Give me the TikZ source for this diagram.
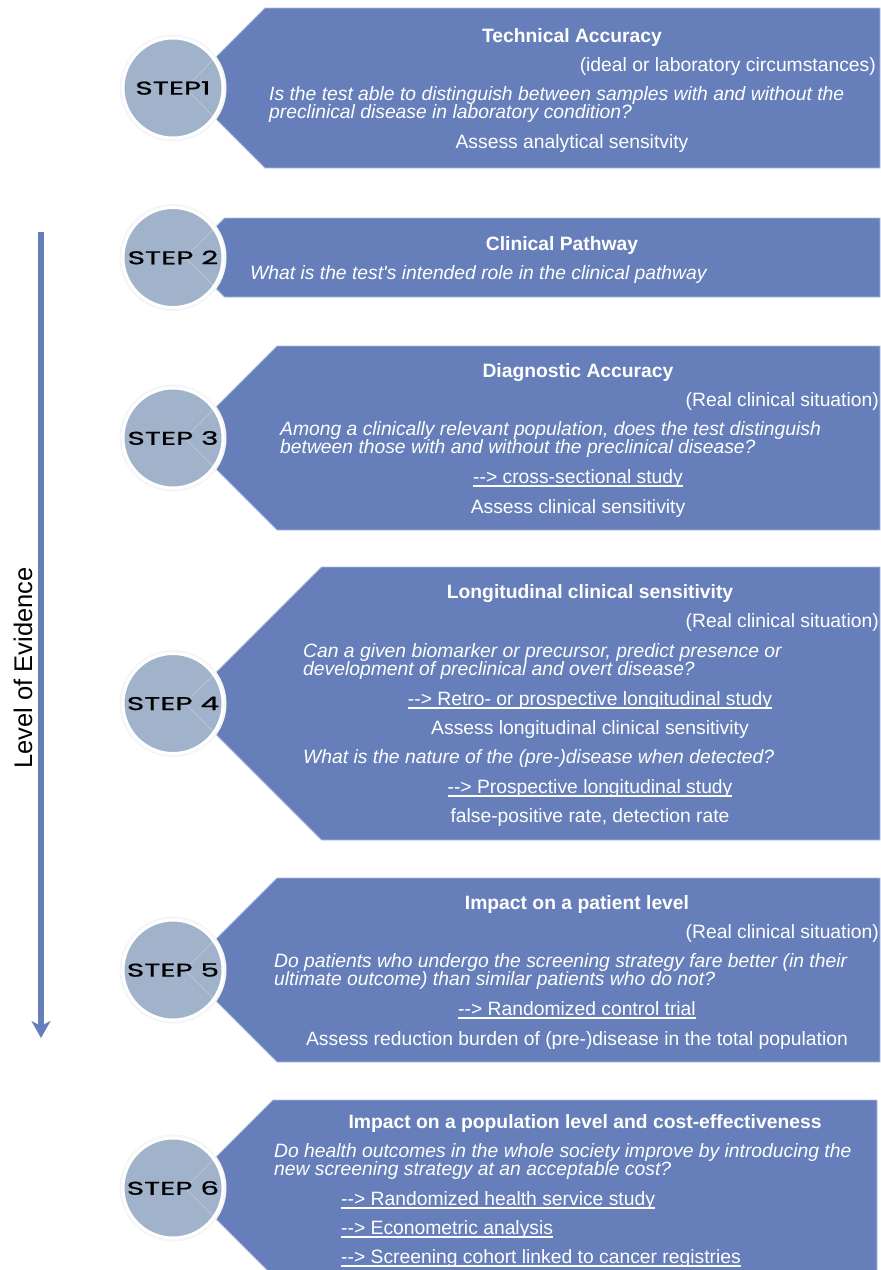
\documentclass[tikz,border=0pt]{standalone}
\usepackage{fontspec}
\setmainfont{Liberation Sans}
\newfontfamily\stepfont[FakeStretch=1.6,FakeBold=0.8]{Poppins}
\usetikzlibrary{arrows.meta}
\definecolor{bannerblue}{RGB}{102,127,187}
\definecolor{discgray}{RGB}{161,179,203}
\definecolor{rimblue}{RGB}{172,188,222}
\newcommand{\lnk}[1]{\setbox0\hbox{#1}\rlap{\rule[-3.5pt]{\wd0}{1.3pt}}\box0}
\newcommand{\arr}{-\kern0pt-\kern0pt>}

\begin{document}
\begin{tikzpicture}[x=1pt,y=-1pt,
  banner/.style={fill=bannerblue,draw=rimblue,line width=0.8pt},
  disc/.style={circle,fill=discgray,draw=white,line width=3pt,minimum size=100pt,inner sep=0pt,preaction={draw=black!4,line width=7pt}},
  seam/.style={draw=white,opacity=0.35,line width=0.6pt},
  steplbl/.style={inner sep=0pt,text=black,font=\stepfont\fontsize{18.5}{20}\selectfont},
  txt/.style={text=white,inner sep=0pt,yshift=-4.5pt,font=\fontsize{19.3}{18}\selectfont},
  ttl/.style={txt,anchor=mid,font=\bfseries\fontsize{19.3}{18}\selectfont},
  note/.style={txt,anchor=mid east},
  qst/.style={txt,anchor=mid west,font=\itshape\fontsize{19.3}{18}\selectfont},
  res/.style={txt,anchor=mid},
  lnkw/.style={txt,anchor=mid west},
  evarrow/.style={-{Stealth[length=17pt,width=19pt,inset=5pt]},line width=6pt,draw=bannerblue}]

                    \useasboundingbox (0,0) rectangle (881,1270);
                    \clip (0,0) rectangle (881,1270);

                    \draw[banner] (265,8) -- (880,8) -- (880,168) -- (265,168) -- (185,88) -- cycle;
                    \draw[banner] (224.5,218) -- (880,218) -- (880,297) -- (224.5,297) -- (185,257.5) -- cycle;
                    \draw[banner] (277,346) -- (880,346) -- (880,530) -- (277,530) -- (185,438) -- cycle;
                    \draw[banner] (321.5,567) -- (880,567) -- (880,840) -- (321.5,840) -- (185,703.5) -- cycle;
                    \draw[banner] (277,878) -- (880,878) -- (880,1062) -- (277,1062) -- (185,970) -- cycle;
                    \draw[banner] (273,1100) -- (877,1100) -- (877,1276) -- (273,1276) -- (185,1188) -- cycle;

                    \node[disc] (c1) at (173,88) {};
                    \node[disc] (c2) at (173,257.5) {};
                    \node[disc] (c3) at (173,438) {};
                    \node[disc] (c4) at (173,703.5) {};
                    \node[disc] (c5) at (173,970) {};
                    \node[disc] (c6) at (173,1188) {};

                    \foreach \c in {88,257.5,438,703.5,970,1188}
                        \draw[seam] (214,\c-29) -- (185,\c) -- (214,\c+29);

                    \node[steplbl] (l1) at (c1) {STEP1};
                    \node[steplbl] (l2) at (c2) {STEP 2};
                    \node[steplbl] (l3) at (c3) {STEP 3};
                    \node[steplbl] (l4) at (c4) {STEP 4};
                    \node[steplbl] (l5) at (c5) {STEP 5};
                    \node[steplbl] (l6) at (c6) {STEP 6};

                    \node[ttl] (t1) at (572,35) {Technical Accuracy};
                    \node[note] (n1) at (876,64) {(ideal or laboratory circumstances)};
                    \node[qst] (q1a) at (269,93) {Is the test able to distinguish between samples with and without the};
                    \node[qst] (q1b) at (269,111) {preclinical disease in laboratory condition?};
                    \node[res] (r1) at (572,141) {Assess analytical sensitvity};

                    \node[ttl] (t2) at (562,243) {Clinical Pathway};
                    \node[qst] (q2) at (250,272) {What is the test\textquotesingle s intended role in the clinical pathway};

                    \node[ttl] (t3) at (578,370) {Diagnostic Accuracy};
                    \node[note] (n3) at (879,399) {(Real clinical situation)};
                    \node[qst] (q3a) at (280,428) {Among a clinically relevant population, does the test distinguish};
                    \node[qst] (q3b) at (280,446) {between those with and without the preclinical disease?};
                    \node[res] (k3) at (578,476) {\lnk{\arr{} cross-sectional study}};
                    \node[res] (r3) at (578,506) {Assess clinical sensitivity};

                    \node[ttl] (t4) at (590,591) {Longitudinal clinical sensitivity};
                    \node[note] (n4) at (879,620) {(Real clinical situation)};
                    \node[qst] (q4a) at (303,650) {Can a given biomarker or precursor, predict presence or};
                    \node[qst] (q4b) at (303,668) {development of preclinical and overt disease?};
                    \node[res] (k4a) at (590,698) {\lnk{\arr{} Retro- or prospective longitudinal study}};
                    \node[res] (r4a) at (590,727) {Assess longitudinal clinical sensitivity};
                    \node[qst] (q4c) at (303,756) {What is the nature of the (pre-)disease when detected?};
                    \node[res] (k4b) at (590,786) {\lnk{\arr{} Prospective longitudinal study}};
                    \node[res] (r4b) at (590,815) {false-positive rate, detection rate};

                    \node[ttl] (t5) at (577,902) {Impact on a patient level};
                    \node[note] (n5) at (879,931) {(Real clinical situation)};
                    \node[qst] (q5a) at (274,960) {Do patients who undergo the screening strategy fare better (in their};
                    \node[qst] (q5b) at (274,978) {ultimate outcome) than similar patients who do not?};
                    \node[res] (k5) at (577,1008) {\lnk{\arr{} Randomized control trial}};
                    \node[res] (r5) at (577,1038) {Assess reduction burden of (pre-)disease in the total population};

                    \node[ttl] (t6) at (585,1121) {Impact on a population level and cost-effectiveness};
                    \node[qst] (q6a) at (274,1150) {Do health outcomes in the whole society improve by introducing the};
                    \node[qst] (q6b) at (274,1168) {new screening strategy at an acceptable cost?};
                    \node[lnkw] (k6a) at (341,1198) {\lnk{\arr{} Randomized health service study}};
                    \node[lnkw] (k6b) at (341,1227) {\lnk{\arr{} Econometric analysis}};
                    \node[lnkw] (k6c) at (341,1256) {\lnk{\arr{} Screening cohort linked to cancer registries}};

                    \coordinate (evtop) at (41,232);
                    \coordinate (evend) at (41,1038);
                    \draw[evarrow] (evtop) -- (evend);
                    \node[rotate=90,inner sep=0pt,font=\fontsize{25.5}{28}\selectfont] (ev) at (23,668) {Level of Evidence};
                \end{tikzpicture}
\end{document}
